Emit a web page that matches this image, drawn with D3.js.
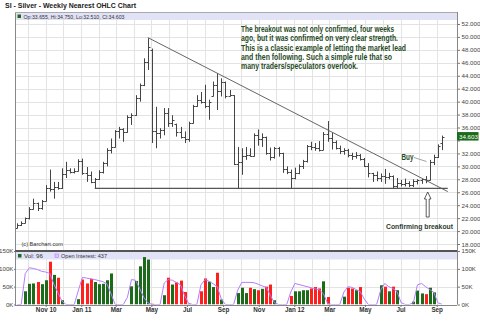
<!DOCTYPE html>
<html>
<head>
<meta charset="utf-8">
<script src="https://cdn.jsdelivr.net/npm/d3@7"></script>
<style>
	body { margin: 0; background: #fff; }
	svg { display: block; font-family: Arial, 'Liberation Sans', sans-serif; }
</style>
</head>
<body>
<div id="chart"></div>
<script>
// weekly bars, first one is the week of 13 Sep 2010
const firstWeek = '2010-09-13';

const opens = [20.5,21.0,21.3,22.0,23.4,24.3,23.5,24.6,26.7,26.5,26.8,26.6,28.8,29.4,29.1,29.3,30.9,28.9,28.6,27.6,
	28.0,29.1,30.5,32.6,33.0,35.5,35.8,35.3,37.6,38.0,40.6,42.6,46.2,48.0,35.4,35.2,35.6,38.3,36.7,36.5,
	35.3,34.6,34.2,36.7,39.3,40.2,40.0,39.3,40.9,42.5,41.7,43.0,40.9,41.0,30.3,30.6,31.6,31.8,31.6,34.8,
	34.2,34.5,32.0,31.4,32.8,32.0,29.6,29.2,28.2,29.0,30.0,30.8,33.2,33.0,32.8,32.6,35.0,34.4,33.8,32.8,
	32.3,32.5,31.7,31.6,31.8,31.2,30.1,28.9,28.6,28.2,28.5,28.3,28.5,26.9,27.4,27.2,27.5,27.1,27.8,27.9,
	28.0,27.9,30.6,31.4,33.655];
const highs = [21.2,21.5,22.1,23.7,25.0,24.4,24.8,27.1,29.5,27.6,27.6,29.7,30.7,29.7,29.7,31.1,31.2,29.9,29.2,28.2,
	29.4,30.7,32.8,34.3,35.6,36.1,35.9,37.9,38.2,41.0,42.8,46.7,49.8,48.2,39.2,35.9,39.0,39.0,37.9,36.6,
	36.1,35.4,36.9,39.5,41.0,41.5,42.6,40.3,43.1,44.4,43.6,43.1,41.8,41.0,33.0,32.8,33.0,32.8,35.1,35.7,
	35.1,34.6,32.9,33.0,33.0,32.1,30.0,29.5,29.8,30.3,31.0,33.3,33.8,33.6,33.9,35.3,37.0,35.2,34.0,33.2,
	32.8,32.7,32.1,32.2,31.9,31.3,30.5,29.0,29.2,28.9,29.6,29.0,28.6,28.2,27.9,28.1,27.7,28.0,28.0,28.1,
	28.5,31.0,31.8,33.4,34.75];
const lows = [20.4,20.8,21.2,21.8,23.3,23.1,23.3,24.6,26.1,25.0,26.4,26.5,28.2,28.9,28.9,29.2,28.7,27.6,27.4,26.6,
	27.9,28.9,30.0,32.0,32.9,34.3,33.8,35.2,36.4,37.8,40.0,42.4,44.9,33.6,32.8,34.3,34.8,36.1,36.1,34.6,
	34.3,33.6,33.8,36.6,39.2,39.7,39.0,37.2,40.8,38.7,40.8,40.5,40.8,30.2,26.6,28.7,31.0,31.5,31.5,33.2,
	33.0,31.8,30.9,31.2,31.5,29.0,28.8,26.5,28.0,28.8,29.6,30.6,32.5,32.4,32.3,32.5,33.8,32.6,32.6,31.9,
	31.8,31.4,31.0,31.2,30.9,29.9,28.3,27.6,27.7,27.6,27.3,28.0,26.5,26.6,26.9,26.9,26.8,26.8,27.2,27.3,
	27.4,27.8,30.2,31.3,32.51];
const closes = [21.0,21.3,22.0,23.4,24.3,23.5,24.6,26.7,26.5,26.8,26.6,28.8,29.4,29.1,29.3,30.9,28.9,28.6,27.6,28.0,
	29.1,30.5,32.6,33.0,35.5,35.8,35.3,37.6,38.0,40.6,42.6,46.2,48.5,35.4,35.2,35.6,38.3,36.7,37.2,35.3,
	34.6,34.2,36.7,39.3,40.2,40.0,39.3,40.0,42.5,41.7,43.0,40.9,41.0,30.3,30.6,31.6,31.8,31.6,34.8,34.2,
	34.5,32.0,31.4,32.8,32.0,29.6,29.2,28.2,29.0,30.0,30.8,33.2,33.0,32.8,32.6,35.0,34.4,33.8,32.8,32.3,
	32.5,31.7,31.6,31.8,31.2,30.1,28.9,28.6,28.2,28.5,28.3,28.5,26.9,27.4,27.2,27.5,27.1,27.8,27.9,28.0,
	27.9,30.6,31.4,33.2,34.603];

// volume and open interest, thousands of contracts
const volume = [0,0,37,58,59,63,57,68,120,83,75,12,0,0,0,15,70,59,72,63,
	57,58,68,87,0,0,0,0,51,66,107,133,126,2,0,0,26,75,56,62,
	67,35,2,0,0,37,73,64,49,89,14,0,0,0,32,47,32,47,43,40,
	44,50,56,12,0,0,0,24,37,37,40,40,45,49,45,65,21,0,0,0,
	22,47,45,40,49,0,0,0,0,54,50,37,50,40,0,0,0,8,39,31,
	29,47,34,0.3,0.096];
const openInterest = [0,0,87,103,101,98,93,91,87,57,33,9,0,0,0,40,76,74,72,70,
	67,64,58,30,0,0,0,20,70,68,45,20,5,0,0,0,60,70,68,62,
	55,25,3,0,0,55,70,65,58,50,15,0,0,0,40,62,62,62,61,57,
	52,48,25,5,0,0,0,35,59,56,53,50,47,44,41,30,3,0,0,0,
	35,50,48,42,36,15,0,0,0,40,59,50,45,36,5,0,0,5,55,59,
	50,42,34,5,0.437];

const trendLine = [{ date: '2011-04-25', value: 49.9 }, { date: '2012-09-20', value: 26.1 }];
const supportLine = [{ date: '2011-01-24', value: 26.6 }, { date: '2012-09-20', value: 26.6 }];

const priceTicks = d3.range(18, 53, 2);
const volTicks = [0, 50, 100, 150];
const monthTicks = ['2010-11-01','2011-01-01','2011-03-01','2011-05-01','2011-07-01','2011-09-01',
	'2011-11-01','2012-01-01','2012-03-01','2012-05-01','2012-07-01','2012-09-01'];
const monthLabels = ['Nov 10','Jan 11','Mar','May','Jul','Sep','Nov','Jan 12','Mar','May','Jul','Sep'];

const noteLines = [
	'The breakout was not only confirmed, four weeks',
	'ago, but it was confirmed on very clear strength.',
	'This is a classic example of letting the market lead',
	'and then following.  Such a simple rule that so',
	'many traders/speculators overlook.'
];
const noteWidths = [153, 157, 165, 151, 117];

// ---- layout
const W = 480, H = 326;
const LEFT = 15, RIGHT = 457, TOP = 12, MID = 250.5, BOTTOM = 304.5;
const GREEN = '#1b6b1b', RED = '#ff1f1f', PURPLE = '#b57cff', GRID = '#e3e3e3';
const NOTE = '#244a22';

const parse = d3.utcParse('%Y-%m-%d');
const start = parse(firstWeek);
const bars = opens.map((o, i) => ({
	date: d3.utcDay.offset(start, 7 * i),
	o, h: highs[i], l: lows[i], c: closes[i],
	vol: volume[i], oi: openInterest[i],
	up: i === 0 ? true : closes[i] >= closes[i - 1]
}));
const last = bars[bars.length - 1];

const x = d3.scaleUtc()
	.domain([parse('2010-11-01'), parse('2012-09-01')])
	.range([45.7, 436.7]);
const yPrice = d3.scaleLinear().domain([17.0, 53.85]).range([MID, TOP]);
const yVol = d3.scaleLinear().domain([0, 150]).range([BOTTOM, 251]);

const svg = d3.select('#chart').append('svg')
	.attr('width', W).attr('height', H);

svg.append('defs').append('clipPath').attr('id', 'clipPrice')
	.append('rect').attr('x', LEFT).attr('y', TOP).attr('width', RIGHT - LEFT).attr('height', MID - TOP);
svg.select('defs').append('clipPath').attr('id', 'clipVol')
	.append('rect').attr('x', LEFT).attr('y', MID).attr('width', RIGHT - LEFT).attr('height', BOTTOM - MID);

// title
svg.append('text')
	.attr('x', 5).attr('y', 8)
	.attr('font-size', 7.4).attr('font-weight', 'bold').attr('fill', '#222')
	.attr('textLength', 131).attr('lengthAdjust', 'spacingAndGlyphs')
	.text('SI - Silver - Weekly Nearest OHLC Chart');

// grid
const months = d3.utcMonth.range(parse('2010-10-01'), parse('2012-10-01'));
const grid = svg.append('g').attr('shape-rendering', 'crispEdges');
grid.selectAll('line.v').data(months).enter().append('line')
	.attr('x1', d => Math.round(x(d)) + 0.5).attr('x2', d => Math.round(x(d)) + 0.5)
	.attr('y1', TOP).attr('y2', BOTTOM)
	.attr('stroke', GRID);
grid.selectAll('line.p').data(priceTicks).enter().append('line')
	.attr('x1', LEFT).attr('x2', RIGHT)
	.attr('y1', d => Math.round(yPrice(d)) + 0.5).attr('y2', d => Math.round(yPrice(d)) + 0.5)
	.attr('stroke', GRID);
grid.selectAll('line.q').data([50, 100]).enter().append('line')
	.attr('x1', LEFT).attr('x2', RIGHT)
	.attr('y1', d => Math.round(yVol(d)) + 0.5).attr('y2', d => Math.round(yVol(d)) + 0.5)
	.attr('stroke', GRID);

// legend bands
svg.append('rect').attr('x', LEFT).attr('y', TOP).attr('width', RIGHT - LEFT).attr('height', 8)
	.attr('fill', '#e2e2f7');
svg.append('rect').attr('x', LEFT).attr('y', 252).attr('width', RIGHT - LEFT).attr('height', 7.5)
	.attr('fill', '#e2e2f7');

// price bars
const priceG = svg.append('g').attr('clip-path', 'url(#clipPrice)');
priceG.selectAll('path.bar').data(bars).enter().append('path')
	.attr('d', d => {
		const px = Math.round(x(d.date)) + 0.5;
		return `M${px},${yPrice(d.h)}V${yPrice(d.l)}` +
			`M${px - 2},${Math.round(yPrice(d.o)) + 0.5}H${px}` +
			`M${px},${Math.round(yPrice(d.c)) + 0.5}H${px + 2}`;
	})
	.attr('stroke', '#444').attr('stroke-width', 1).attr('fill', 'none');

// drawn lines
const priceLine = d3.line().x(d => x(parse(d.date))).y(d => yPrice(d.value));
priceG.append('path').attr('d', priceLine(trendLine))
	.attr('stroke', '#666').attr('stroke-width', 1).attr('fill', 'none');
priceG.append('path').attr('d', priceLine(supportLine))
	.attr('stroke', '#555').attr('stroke-width', 1.4).attr('fill', 'none');

// volume bars and open interest
const volG = svg.append('g').attr('clip-path', 'url(#clipVol)');
volG.selectAll('rect.vol').data(bars.filter(d => d.vol > 0)).enter().append('rect')
	.attr('x', d => Math.round(x(d.date)) - 1)
	.attr('width', 3)
	.attr('y', d => yVol(d.vol))
	.attr('height', d => BOTTOM - yVol(d.vol))
	.attr('fill', d => d.up ? GREEN : RED);
volG.append('path')
	.attr('d', d3.line().x(d => x(d.date)).y(d => yVol(d.oi))(bars))
	.attr('stroke', PURPLE).attr('stroke-width', 1).attr('fill', 'none');

// legends
const f3 = d3.format('.3f');
svg.append('rect').attr('x', 17.5).attr('y', 14.5).attr('width', 3.5).attr('height', 3.5).attr('fill', GREEN);
svg.append('text').attr('x', 23.5).attr('y', 18.6)
	.attr('font-size', 6.2).attr('fill', '#333')
	.attr('textLength', 101).attr('lengthAdjust', 'spacingAndGlyphs')
	.text(`Op:${f3(last.o)}, Hi:${f3(last.h)}, Lo:${f3(last.l)}, Cl:${f3(last.c)}`);

svg.append('rect').attr('x', 18).attr('y', 254).attr('width', 3.5).attr('height', 3.5).attr('fill', GREEN);
svg.append('text').attr('x', 24).attr('y', 258.2)
	.attr('font-size', 6.2).attr('fill', '#333')
	.text(`Vol: ${Math.round(last.vol * 1000)}`);
svg.append('rect').attr('x', 55).attr('y', 254).attr('width', 3.5).attr('height', 3.5)
	.attr('fill', '#ddc4ff').attr('stroke', PURPLE).attr('stroke-width', 0.6);
svg.append('text').attr('x', 61).attr('y', 258.2)
	.attr('font-size', 6.2).attr('fill', '#333')
	.attr('textLength', 46).attr('lengthAdjust', 'spacingAndGlyphs')
	.text(`Open Interest: ${Math.round(last.oi * 1000)}`);

svg.append('text').attr('x', 21.5).attr('y', 246.3)
	.attr('font-size', 6.2).attr('fill', '#333')
	.attr('textLength', 41.5).attr('lengthAdjust', 'spacingAndGlyphs')
	.text('(c) Barchart.com');

// annotations
const note = svg.append('g').attr('font-size', 8.3).attr('font-weight', 'bold').attr('fill', NOTE);
note.selectAll('text').data(noteLines).enter().append('text')
	.attr('x', 241)
	.attr('y', (d, i) => 32 + i * 9.33)
	.attr('textLength', (d, i) => noteWidths[i])
	.attr('lengthAdjust', 'spacingAndGlyphs')
	.text(d => d);

svg.append('text').attr('x', 401.5).attr('y', 160)
	.attr('font-size', 8.3).attr('font-weight', 'bold').attr('fill', NOTE)
	.attr('textLength', 12).attr('lengthAdjust', 'spacingAndGlyphs')
	.text('Buy');
svg.append('line').attr('x1', 414).attr('y1', 157.5).attr('x2', 426.5).attr('y2', 161.5)
	.attr('stroke', '#8a8a8a').attr('stroke-width', 0.8);

svg.append('path')
	.attr('d', 'M427.7,192 L431,199 L429.2,199 L429.2,217 L426.2,217 L426.2,199 L424.4,199 Z')
	.attr('fill', '#fff').attr('stroke', '#333').attr('stroke-width', 0.8);

svg.append('text').attr('x', 386).attr('y', 228.5)
	.attr('font-size', 8.1).attr('font-weight', 'bold').attr('fill', '#2f3b2f')
	.attr('textLength', 67).attr('lengthAdjust', 'spacingAndGlyphs')
	.text('Confirming breakout');

// frame
const frame = svg.append('g').attr('shape-rendering', 'crispEdges').attr('fill', 'none');
frame.append('line').attr('x1', LEFT + 0.5).attr('x2', LEFT + 0.5).attr('y1', TOP).attr('y2', BOTTOM)
	.attr('stroke', '#888');
frame.append('line').attr('x1', LEFT).attr('x2', RIGHT).attr('y1', TOP + 0.5).attr('y2', TOP + 0.5)
	.attr('stroke', '#aaa');
frame.append('line').attr('x1', LEFT).attr('x2', RIGHT).attr('y1', MID).attr('y2', MID)
	.attr('stroke', '#555').attr('stroke-width', 2);
frame.append('line').attr('x1', LEFT).attr('x2', RIGHT).attr('y1', BOTTOM + 0.5).attr('y2', BOTTOM + 0.5)
	.attr('stroke', '#888');

// axes
function styleAxis(g) {
	g.select('.domain').attr('stroke', '#888');
	g.selectAll('.tick line').attr('stroke', '#777');
	g.selectAll('.tick text').attr('fill', '#444').attr('font-size', 6.2);
}

// the last-price tag sits over the nearest tick label, so that label is not drawn
const tagY = yPrice(last.c);
const hiddenTick = priceTicks.find(t => Math.abs(yPrice(t) - tagY) < 7);

svg.append('g')
	.attr('transform', `translate(${RIGHT + 0.5},0)`)
	.call(d3.axisRight(yPrice).tickValues(priceTicks)
		.tickFormat(d => d === hiddenTick ? '' : f3(d))
		.tickSize(2.5).tickPadding(1.5).tickSizeOuter(0))
	.call(styleAxis)
	.call(g => g.select('.domain').attr('d', `M0,${TOP}V${BOTTOM}`));

svg.append('g')
	.attr('transform', `translate(${RIGHT + 0.5},0)`)
	.call(d3.axisRight(yVol).tickValues(volTicks).tickFormat(d => d + 'K').tickSize(2.5).tickPadding(1.5).tickSizeOuter(0))
	.call(styleAxis)
	.call(g => g.select('.domain').remove());

svg.append('g')
	.attr('transform', `translate(${LEFT + 0.5},0)`)
	.call(d3.axisLeft(yVol).tickValues(volTicks).tickFormat(d => d + 'K').tickSize(1.5).tickPadding(0.5).tickSizeOuter(0))
	.call(styleAxis)
	.call(g => g.select('.domain').remove());

svg.append('g')
	.attr('transform', `translate(0,${BOTTOM + 0.5})`)
	.call(d3.axisBottom(x).tickValues(monthTicks.map(parse))
		.tickFormat((d, i) => monthLabels[i]).tickSize(2).tickPadding(0.5).tickSizeOuter(0))
	.call(styleAxis)
	.call(g => g.select('.domain').remove())
	.call(g => g.selectAll('.tick text').attr('font-weight', 'bold').attr('fill', '#333').attr('font-size', 6.3));

// last price tag
svg.append('rect').attr('x', RIGHT).attr('y', tagY - 4.5).attr('width', 21.5).attr('height', 8.5)
	.attr('fill', GREEN);
svg.append('text').attr('x', RIGHT + 2).attr('y', tagY + 2.2)
	.attr('font-size', 6.2).attr('fill', '#fff')
	.text(f3(last.c));
</script>
</body>
</html>
